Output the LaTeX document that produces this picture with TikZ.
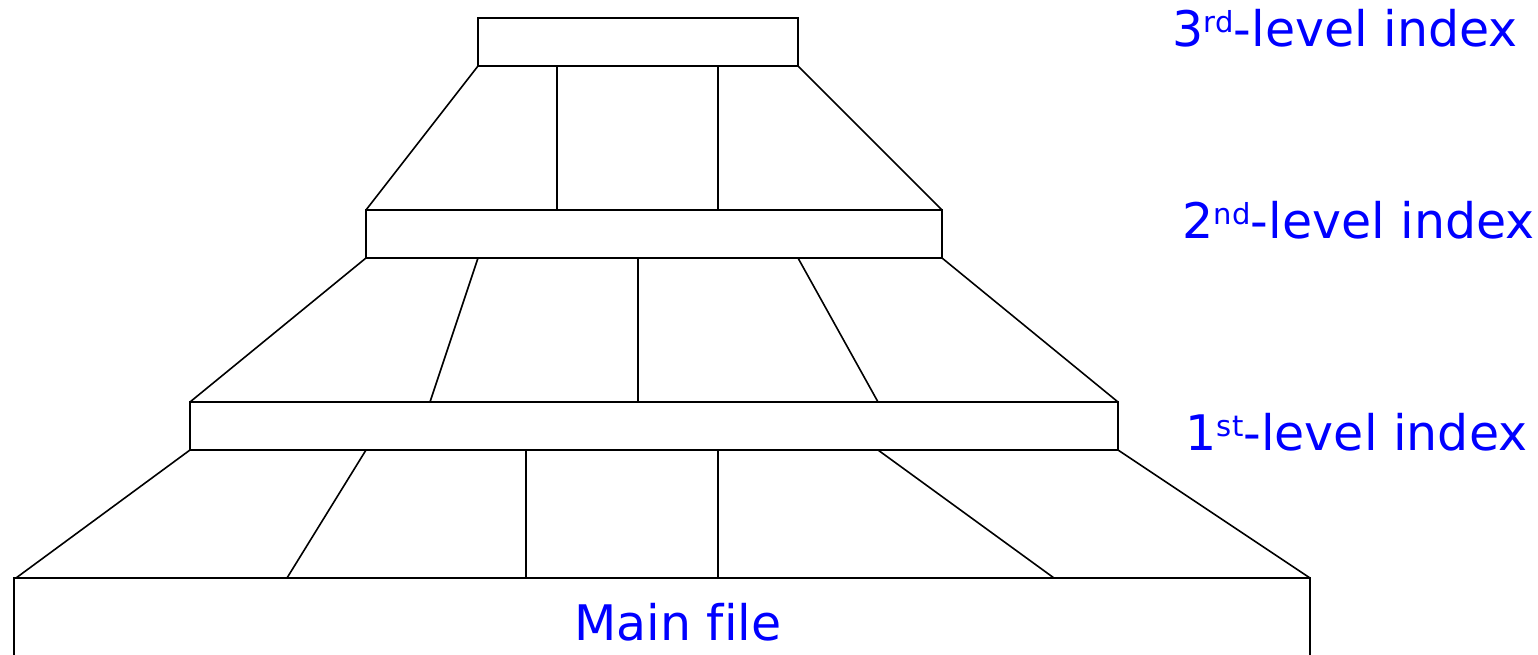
\documentclass[tikz,border=0pt]{standalone}
\usepackage{fontspec}
\setmainfont[Ligatures=NoCommon]{DejaVu Sans}
\newcommand\supx[1]{\raisebox{14pt}{\fontsize{29}{29}\selectfont #1}}
\begin{document}
\begin{tikzpicture}[x=1pt,y=-1pt,line join=miter,line width=1.6pt,
	lbl/.style={text=blue,inner sep=0pt,font=\fontsize{49}{52}\selectfont}]
	\useasboundingbox (0,0) rectangle (1538,655);
	% corners and split points, level by level
	\path (478,66) coordinate (T1) (557,66) coordinate (T2)
	(718,66) coordinate (T3) (798,66) coordinate (T4)
	(366,210) coordinate (S1) (557,210) coordinate (S2)
	(718,210) coordinate (S3) (942,210) coordinate (S4)
	(366,258) coordinate (B1) (478,258) coordinate (B2) (638,258) coordinate (B3)
	(798,258) coordinate (B4) (942,258) coordinate (B5)
	(190,402) coordinate (F1) (430,402) coordinate (F2) (638,402) coordinate (F3)
	(878,402) coordinate (F4) (1118,402) coordinate (F5)
	(190,450) coordinate (G1) (366,450) coordinate (G2) (526,450) coordinate (G3)
	(718,450) coordinate (G4) (878,450) coordinate (G5) (1118,450) coordinate (G6)
	(16,578) coordinate (M1) (287,578) coordinate (M2) (526,578) coordinate (M3)
	(718,578) coordinate (M4) (1054,578) coordinate (M5) (1310,578) coordinate (M6)
	;
	\draw (478,18) rectangle (T4);
	\draw (S1) rectangle (B5);
	\draw (F1) rectangle (G6);
	\draw (14,655)--(14,578)--(1310,578)--(1310,655);
	
	\foreach \a/\b in {T1/S1,T2/S2,T3/S3,T4/S4,B1/F1,B2/F2,B3/F3,B4/F4,B5/F5,
		G1/M1,G2/M2,G3/M3,G4/M4,G5/M5,G6/M6}
	\draw (\a)--(\b);
	
	\node[lbl,anchor=base west] (L3) at (1172,47) {3\supx{rd}-level index};
	\node[lbl,anchor=base west] (L2) at (1182,238) {2\supx{nd}-level index};
	\node[lbl,anchor=base west] (L1) at (1185,450) {1\supx{st}-level index};
	\node[lbl,anchor=base] (MF) at (678,640) {Main file};
\end{tikzpicture}
\end{document}
